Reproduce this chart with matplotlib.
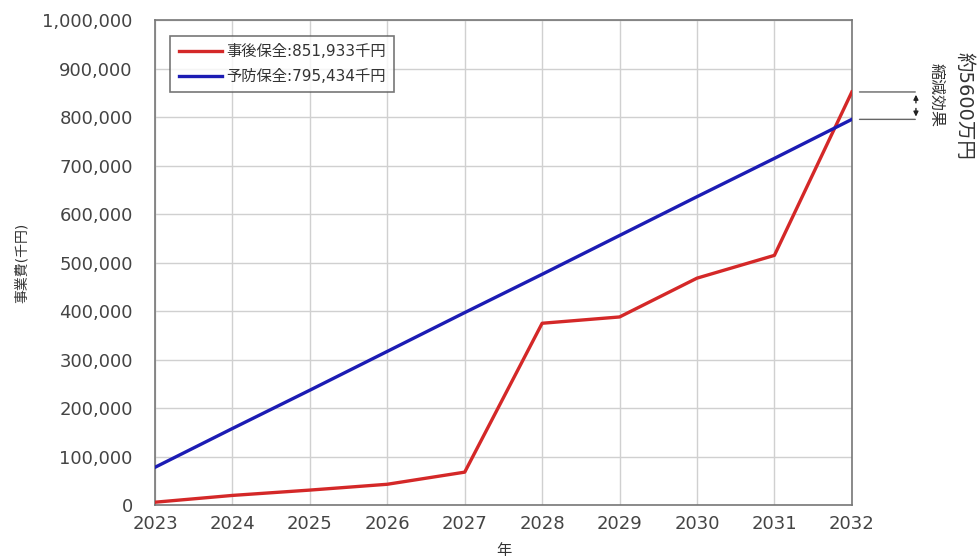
import matplotlib
matplotlib.use("Agg")
import matplotlib.pyplot as plt
from matplotlib.ticker import FuncFormatter

plt.rcParams['font.family'] = ['DejaVu Sans', 'Noto Sans CJK JP']

years = [2023, 2024, 2025, 2026, 2027, 2028, 2029, 2030, 2031, 2032]
post_maintenance = [6000, 20000, 31000, 43000, 68000, 375000, 388000, 468000, 515000, 851933]
preventive = [78000, 158000, 237000, 317000, 397000, 476000, 556000, 636000, 715000, 795434]
label_post = "事後保全:851,933千円"
label_prev = "予防保全:795,434千円"
note1 = "縮減効果"
note2 = "約5600万円"

fig = plt.figure(figsize=(9.78, 5.6), dpi=100)
ax = fig.add_axes([0.1585, 0.098, 0.7125, 0.866])

ax.plot(years, post_maintenance, color="#d42828", lw=2.4, label=label_post, zorder=3)
ax.plot(years, preventive, color="#1c1cb4", lw=2.4, label=label_prev, zorder=3)

ax.set_xlim(2023, 2032)
ax.set_ylim(0, 1000000)
ax.set_xticks(years)
ax.set_yticks(range(0, 1000001, 100000))
ax.yaxis.set_major_formatter(FuncFormatter(lambda v, p: f"{int(v):,}"))
ax.grid(True, color="#d0d0d0", lw=1.0)
ax.set_axisbelow(True)
for s in ax.spines.values():
    s.set_color("#777777")
    s.set_linewidth(1.2)
ax.tick_params(length=0, labelsize=13, colors="#444444")
ax.tick_params(axis='y', pad=16)
ax.tick_params(axis='x', pad=7)

ax.set_xlabel("年", fontsize=11, color="#333333", labelpad=7)
ax.set_ylabel("事業費(千円)", fontsize=10, color="#333333", labelpad=10)

leg = ax.legend(loc="upper left", bbox_to_anchor=(0.022, 0.968), fontsize=11,
                frameon=True, fancybox=False, handlelength=2.8, handletextpad=0.3,
                borderpad=0.55, labelspacing=0.65, borderaxespad=0)
leg.get_frame().set_edgecolor("#555555")
leg.get_frame().set_linewidth(1.2)
for t in leg.get_texts():
    t.set_color("#333333")

# annotation bracket on the right
y_hi = post_maintenance[-1]
y_lo = preventive[-1]
for yv in (y_hi, y_lo):
    ax.annotate("", xy=(1.095, yv), xycoords=("axes fraction", "data"),
                xytext=(1.007, yv), textcoords=("axes fraction", "data"),
                arrowprops=dict(arrowstyle="-", color="#666666", lw=1.0),
                annotation_clip=False)
ymid = (y_hi + y_lo) / 2
for yv in (y_hi, y_lo):
    ax.annotate("", xy=(1.092, yv), xycoords=("axes fraction", "data"),
                xytext=(1.092, ymid), textcoords=("axes fraction", "data"),
                arrowprops=dict(arrowstyle="-|>", color="#222222", lw=1.0, mutation_scale=7),
                annotation_clip=False)

fig.text(936 / 978, 1 - 95 / 560, note1, rotation=-90, fontsize=11.5, color="#333333",
         ha="center", va="center")
fig.text(964 / 978, 1 - 106 / 560, note2, rotation=-90, fontsize=14, color="#333333",
         ha="center", va="center")

fig.savefig("out.png", dpi=100)
